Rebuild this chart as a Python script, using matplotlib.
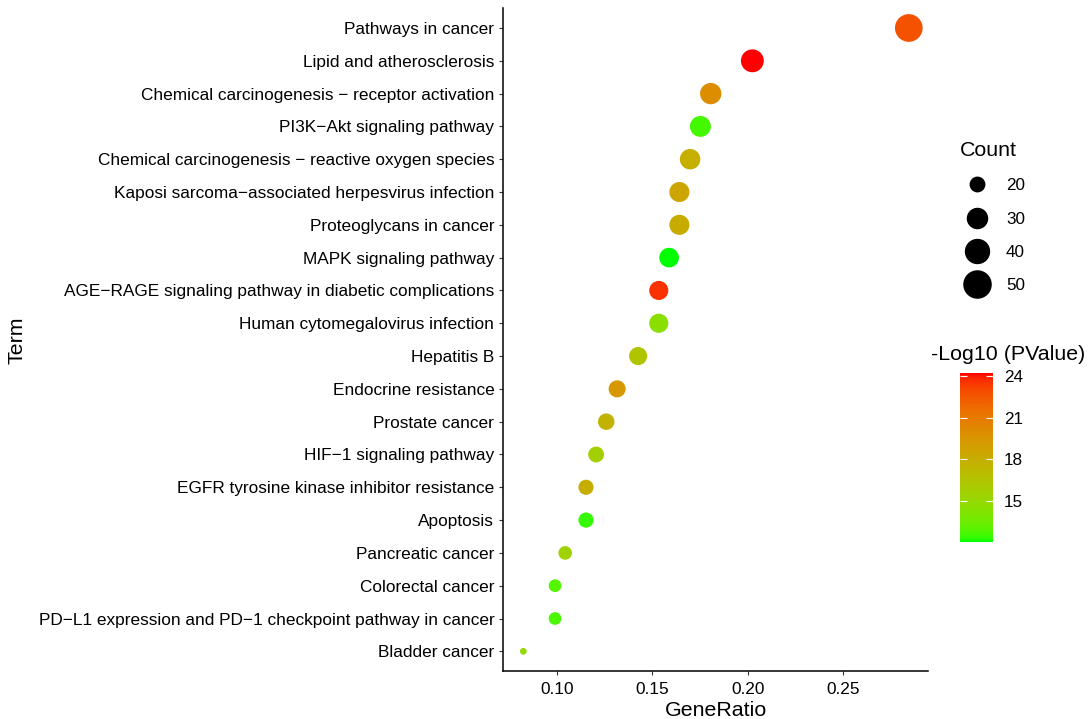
import numpy as np
import matplotlib
matplotlib.use('Agg')
import matplotlib.pyplot as plt
from matplotlib.colors import ListedColormap
from matplotlib.lines import Line2D

plt.rcParams['font.family'] = ['Liberation Sans', 'DejaVu Sans']

# KEGG terms, top to bottom
terms = [
    'Pathways in cancer',
    'Lipid and atherosclerosis',
    'Chemical carcinogenesis \u2212 receptor activation',
    'PI3K\u2212Akt signaling pathway',
    'Chemical carcinogenesis \u2212 reactive oxygen species',
    'Kaposi sarcoma\u2212associated herpesvirus infection',
    'Proteoglycans in cancer',
    'MAPK signaling pathway',
    'AGE\u2212RAGE signaling pathway in diabetic complications',
    'Human cytomegalovirus infection',
    'Hepatitis B',
    'Endocrine resistance',
    'Prostate cancer',
    'HIF\u22121 signaling pathway',
    'EGFR tyrosine kinase inhibitor resistance',
    'Apoptosis',
    'Pancreatic cancer',
    'Colorectal cancer',
    'PD\u2212L1 expression and PD\u22121 checkpoint pathway in cancer',
    'Bladder cancer',
]
counts = [52, 37, 33, 32, 31, 30, 30, 29, 28, 28, 26, 24, 23, 22, 21, 21, 19, 18, 18, 15]
gene_ratio = [0.2843, 0.2024, 0.1806, 0.1752, 0.1698, 0.1642, 0.1642, 0.1588, 0.1534, 0.1534,
              0.1426, 0.1316, 0.1259, 0.1206, 0.1153, 0.1153, 0.1044, 0.0991, 0.0991, 0.0825]
neg_log_p = [22.7, 24.2, 19.9, 12.6, 17.8, 18.5, 18.1, 12.05, 23.6, 14.5,
             16.4, 19.3, 17.6, 15.7, 17.9, 12.4, 15.5, 12.9, 12.7, 14.8]
size_breaks = [20, 30, 40, 50]
cbar_ticks = [15, 18, 21, 24]


# ggplot-like green -> red gradient, interpolated in CIELAB
M = np.array([[0.4124, 0.3576, 0.1805],
              [0.2126, 0.7152, 0.0722],
              [0.0193, 0.1192, 0.9505]])
WHITE = np.array([0.95047, 1.0, 1.08883])

def to_lab(rgb):
    c = np.asarray(rgb, float)
    lin = np.where(c <= 0.04045, c / 12.92, ((c + 0.055) / 1.055) ** 2.4)
    xyz = M @ lin / WHITE
    d = 6 / 29
    f = np.where(xyz > d ** 3, np.cbrt(xyz), xyz / (3 * d * d) + 4 / 29)
    return np.array([116 * f[1] - 16, 500 * (f[0] - f[1]), 200 * (f[1] - f[2])])

def from_lab(lab):
    L, a, b = lab
    fy = (L + 16) / 116
    f = np.array([fy + a / 500, fy, fy - b / 200])
    d = 6 / 29
    xyz = np.where(f > d, f ** 3, 3 * d * d * (f - 4 / 29)) * WHITE
    lin = np.clip(np.linalg.solve(M, xyz), 0, 1)
    c = np.where(lin <= 0.0031308, 12.92 * lin, 1.055 * lin ** (1 / 2.4) - 0.055)
    return np.clip(c, 0, 1)

lo, hi = to_lab([0, 1, 0]), to_lab([1, 0, 0])
cmap = ListedColormap([from_lab(lo + t * (hi - lo)) for t in np.linspace(0, 1, 256)])


def diam_pt(c, cmin=min(counts), cmax=max(counts)):
    # ggplot-style area scaling, diameter in pixels converted to points
    px = 6.7 + 21.0 * np.sqrt((np.asarray(c, float) - cmin) / (cmax - cmin))
    return px * 72 / 100


fig = plt.figure(figsize=(10.88, 7.19), dpi=100)
ax = fig.add_axes([503.3 / 1088, 1 - 671 / 719, 424.4 / 1088, 662.7 / 719])

ypos = np.arange(len(terms))[::-1]
sc = ax.scatter(gene_ratio, ypos, s=diam_pt(counts) ** 2, c=neg_log_p, cmap=cmap,
                vmin=12.05, vmax=24.2, linewidths=0, zorder=3)

ax.set_xlim(0.072, 0.2942)
ax.set_ylim(-0.6, len(terms) - 0.4)
ax.set_xticks([0.10, 0.15, 0.20, 0.25])
ax.set_xticklabels(['0.10', '0.15', '0.20', '0.25'])
ax.set_yticks(ypos)
ax.set_yticklabels(terms)
ax.tick_params(labelsize=12.4, length=3, width=0.8, color='#333333', labelcolor='black')
ax.tick_params(axis='x', pad=5)
for side in ['top', 'right']:
    ax.spines[side].set_visible(False)
for side in ['left', 'bottom']:
    ax.spines[side].set_linewidth(1.1)

ax.set_xlabel('GeneRatio', fontsize=15.4, labelpad=3)
fig.text(17 / 1088, 1 - 340 / 719, 'Term', rotation=90, ha='center', va='center', fontsize=15.4)

# size legend
handles = [Line2D([], [], marker='o', ls='', color='black', markersize=diam_pt(b))
           for b in size_breaks]
leg = fig.legend(handles, [str(b) for b in size_breaks], title='Count', loc='upper left',
                 bbox_to_anchor=(948 / 1088, 1 - 129 / 719), frameon=False,
                 fontsize=12.3, title_fontsize=15.4, labelspacing=1.07,
                 handlelength=1.95, handletextpad=0.75, borderpad=0.2)
leg._legend_box.align = 'left'

# colour bar
cax = fig.add_axes([960 / 1088, 1 - 541.7 / 719, 33 / 1088, 168.4 / 719])
cb = fig.colorbar(sc, cax=cax, ticks=cbar_ticks)
cb.outline.set_visible(False)
cax.tick_params(direction='in', length=5, width=0.8, color='white', left=True, right=True,
                labelsize=12.3, pad=8)
fig.text(931 / 1088, 1 - 355 / 719, '-Log10 (PValue)', va='center', ha='left', fontsize=15.4)

fig.savefig('out.png', dpi=100)
